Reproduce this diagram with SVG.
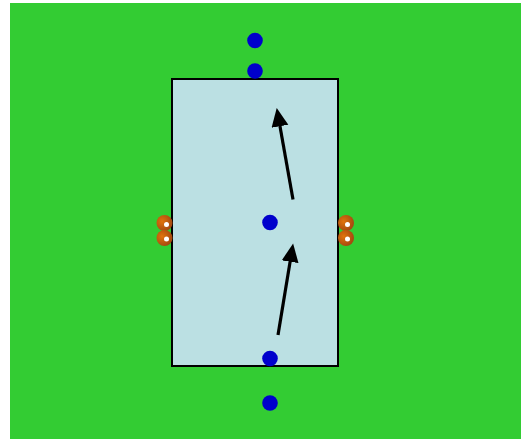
<svg xmlns="http://www.w3.org/2000/svg" width="521" height="439" viewBox="0 0 521 439">
<style>
.blue{fill:#0000cc}
.dot{fill:#fff}
.cone{fill:url(#cone)}
.arrow{fill:none;stroke:#000;stroke-width:3.2;marker-end:url(#head)}
</style>
<defs>
<radialGradient id="cone" cx="0.35" cy="0.4" r="0.7">
<stop offset="0" stop-color="#e0740c"/>
<stop offset="1" stop-color="#a04510"/>
</radialGradient>
<marker id="head" markerUnits="userSpaceOnUse" markerWidth="20" markerHeight="18" refX="5.5" refY="8.5" orient="auto">
<path d="M0 0L18.5 8.5L0 17Z" fill="#000"/>
</marker>
</defs>
<rect id="field" x="10" y="3" width="511" height="436" fill="#33cc33"/>
<g id="zone"><rect x="172" y="79" width="166" height="287" fill="#bbe0e3" stroke="#000" stroke-width="2"/></g>
<g id="cone-l1"><circle class="cone" cx="164.5" cy="223" r="8"/><circle class="dot" cx="166.5" cy="224.5" r="2.5"/></g>
<g id="cone-l2"><circle class="cone" cx="164.5" cy="238" r="8"/><circle class="dot" cx="166.5" cy="239" r="2.5"/></g>
<g id="cone-r1"><circle class="cone" cx="346" cy="223" r="8"/><circle class="dot" cx="347.5" cy="224.5" r="2.5"/></g>
<g id="cone-r2"><circle class="cone" cx="346" cy="238" r="8"/><circle class="dot" cx="347.5" cy="239" r="2.5"/></g>
<g id="player1"><circle class="blue" cx="255" cy="40.5" r="7.8"/></g>
<g id="player2"><circle class="blue" cx="255" cy="71" r="7.8"/></g>
<g id="player3"><circle class="blue" cx="270" cy="222.5" r="7.8"/></g>
<g id="player4"><circle class="blue" cx="270" cy="358.5" r="7.8"/></g>
<g id="player5"><circle class="blue" cx="270" cy="403" r="7.8"/></g>
<g id="connectors">
<path class="arrow" d="M293 199.5L279 120.8"/>
<path class="arrow" d="M278 335L291 256.3"/>
</g>
</svg>
